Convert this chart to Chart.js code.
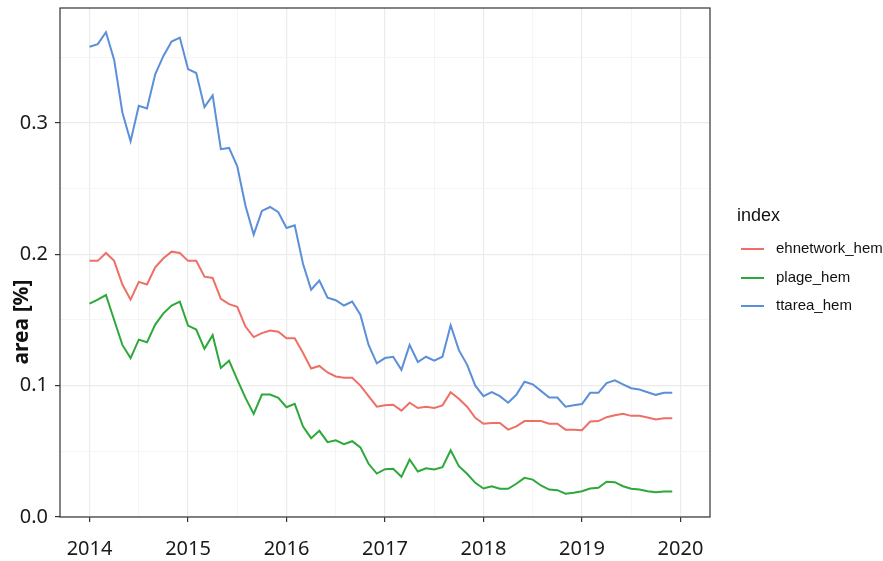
<!DOCTYPE html>
<html>
<head>
<meta charset="utf-8">
<script src="https://cdn.jsdelivr.net/npm/chart.js@4/dist/chart.umd.min.js"></script>
<style>
html,body{margin:0;padding:0;background:#fff}
#wrap{width:883px;height:561px;position:relative}
</style>
</head>
<body>
<div id="wrap"><canvas id="c"></canvas></div>
<script>
const months = [
"2014-01","2014-02","2014-03","2014-04","2014-05","2014-06","2014-07","2014-08","2014-09","2014-10","2014-11","2014-12",
"2015-01","2015-02","2015-03","2015-04","2015-05","2015-06","2015-07","2015-08","2015-09","2015-10","2015-11","2015-12",
"2016-01","2016-02","2016-03","2016-04","2016-05","2016-06","2016-07","2016-08","2016-09","2016-10","2016-11","2016-12",
"2017-01","2017-02","2017-03","2017-04","2017-05","2017-06","2017-07","2017-08","2017-09","2017-10","2017-11","2017-12",
"2018-01","2018-02","2018-03","2018-04","2018-05","2018-06","2018-07","2018-08","2018-09","2018-10","2018-11","2018-12",
"2019-01","2019-02","2019-03","2019-04","2019-05","2019-06","2019-07","2019-08","2019-09","2019-10","2019-11","2019-12"
];
const ehnetwork_hem = [
0.195,0.195,0.201,0.195,0.177,0.1655,0.179,0.177,0.190,0.197,0.202,0.201,
0.195,0.195,0.183,0.182,0.166,0.162,0.160,0.145,0.137,0.140,0.142,0.141,
0.136,0.136,0.125,0.113,0.115,0.110,0.107,0.106,0.106,0.100,0.092,0.084,
0.085,0.0855,0.081,0.087,0.083,0.084,0.083,0.085,0.095,0.090,0.084,0.0755,
0.071,0.0715,0.0715,0.0665,0.069,0.073,0.073,0.073,0.071,0.071,0.0665,0.0665,
0.066,0.0727,0.073,0.076,0.0775,0.0785,0.077,0.077,0.0757,0.0742,0.0752,0.0752
];
const plage_hem = [
0.1625,0.1655,0.169,0.150,0.131,0.121,0.135,0.133,0.1465,0.155,0.161,0.164,
0.1457,0.1427,0.128,0.1384,0.1135,0.119,0.1046,0.0907,0.0785,0.0932,0.0932,0.0907,
0.0836,0.0861,0.069,0.060,0.0656,0.057,0.0584,0.0555,0.0577,0.053,0.0405,0.0331,
0.0364,0.0367,0.0306,0.0438,0.0346,0.0371,0.0361,0.0379,0.0508,0.0387,0.0329,0.026,
0.0217,0.0234,0.0215,0.0215,0.0253,0.0298,0.0285,0.024,0.0209,0.0204,0.0177,0.0184,
0.0196,0.0217,0.0222,0.0268,0.0265,0.0234,0.0215,0.0209,0.0196,0.0189,0.0194,0.0194
];
const ttarea_hem = [
0.358,0.360,0.369,0.348,0.308,0.286,0.313,0.311,0.337,0.351,0.362,0.365,
0.341,0.338,0.312,0.321,0.280,0.281,0.267,0.237,0.215,0.233,0.236,0.232,
0.220,0.222,0.193,0.173,0.180,0.167,0.165,0.161,0.164,0.154,0.131,0.117,
0.121,0.122,0.112,0.131,0.118,0.122,0.119,0.122,0.146,0.127,0.116,0.100,
0.092,0.095,0.092,0.087,0.093,0.103,0.101,0.096,0.091,0.091,0.084,0.085,
0.086,0.0945,0.0945,0.102,0.104,0.101,0.098,0.097,0.095,0.093,0.0945,0.0945
];
const seriesNames = ["ehnetwork_hem","plage_hem","ttarea_hem"];
const seriesColors = ["#EE6F66","#2DA83A","#5B8FD9"];
const legendTitle = "index";
const yAxisTitle = "area [%]";
const xMajor = [2014,2015,2016,2017,2018,2019,2020];
const xMajorLabels = ["2014","2015","2016","2017","2018","2019","2020"];
const xMinor = [2014.5,2015.5,2016.5,2017.5,2018.5,2019.5];
const yMajor = [0,0.1,0.2,0.3];
const yMajorLabels = ["0.0","0.1","0.2","0.3"];
const yMinor = [0.05,0.15,0.25,0.35];

const toYear = s => Number(s.slice(0,4)) + (Number(s.slice(5,7)) - 1) / 12;
const series = [ehnetwork_hem, plage_hem, ttarea_hem];
const datasets = series.map((vals, k) => ({
  label: seriesNames[k],
  data: months.map((m, i) => ({x: toYear(m), y: vals[i]})),
  borderColor: seriesColors[k],
  backgroundColor: seriesColors[k],
  borderWidth: 2,
  pointRadius: 0,
  tension: 0,
  fill: false
}));

const isMajor = (v, arr) => arr.some(a => Math.abs(a - v) < 1e-9);

const decor = {
  id: 'decor',
  afterDraw(chart) {
    const ctx = chart.ctx, a = chart.chartArea;
    ctx.save();
    ctx.strokeStyle = '#333333';
    ctx.lineWidth = 1.2;
    ctx.strokeRect(a.left, a.top, a.right - a.left, a.bottom - a.top);
    // y axis title
    ctx.translate(22, 322);
    ctx.rotate(-Math.PI / 2);
    ctx.fillStyle = '#111';
    ctx.font = 'bold 21px "Noto Sans"';
    ctx.textAlign = 'center';
    ctx.textBaseline = 'middle';
    ctx.fillText(yAxisTitle, 0, 0);
    ctx.restore();
    // legend
    ctx.save();
    ctx.fillStyle = '#111';
    ctx.font = '18px "Liberation Sans"';
    ctx.textAlign = 'left';
    ctx.textBaseline = 'middle';
    ctx.fillText(legendTitle, 737, 216);
    ctx.font = '15px "Liberation Sans"';
    const ys = [249, 278, 306];
    seriesNames.forEach((n, k) => {
      ctx.strokeStyle = seriesColors[k];
      ctx.lineWidth = 2;
      ctx.beginPath();
      ctx.moveTo(741, ys[k]);
      ctx.lineTo(764, ys[k]);
      ctx.stroke();
      ctx.fillStyle = '#111';
      ctx.fillText(n, 776, ys[k]);
    });
    ctx.restore();
  }
};

const zeroPad = s => { s.paddingTop = 0; s.paddingBottom = 0; s.paddingLeft = 0; s.paddingRight = 0; };

new Chart(document.getElementById('c'), {
  type: 'line',
  data: { datasets },
  plugins: [decor],
  options: {
    responsive: true,
    maintainAspectRatio: false,
    animation: false,
    layout: { padding: { top: 8, right: 173, left: 0, bottom: 0 } },
    plugins: { legend: { display: false }, tooltip: { enabled: false }, title: { display: false } },
    scales: {
      x: {
        type: 'linear',
        min: 2013.7,
        max: 2020.3,
        afterBuildTicks: s => { s.ticks = xMajor.concat(xMinor).sort((p, q) => p - q).map(v => ({value: v})); },
        afterFit: s => { s.height = 44; zeroPad(s); },
        border: { display: false },
        grid: {
          color: c => isMajor(c.tick.value, xMajor) ? '#EBEBEB' : '#F2F2F2',
          lineWidth: c => isMajor(c.tick.value, xMajor) ? 1.2 : 0.8,
          tickLength: 5,
          tickColor: c => isMajor(c.tick.value, xMajor) ? '#333333' : 'rgba(0,0,0,0)',
          drawTicks: true
        },
        ticks: {
          autoSkip: false,
          maxRotation: 0,
          padding: 15,
          color: '#1a1a1a',
          font: { family: 'Noto Sans', size: 20 },
          callback: v => { const i = xMajor.findIndex(a => Math.abs(a - v) < 1e-9); return i >= 0 ? xMajorLabels[i] : ''; }
        }
      },
      y: {
        type: 'linear',
        min: 0,
        max: 0.3875,
        afterBuildTicks: s => { s.ticks = yMajor.concat(yMinor).sort((p, q) => p - q).map(v => ({value: v})); },
        afterFit: s => { s.width = 60; zeroPad(s); },
        border: { display: false },
        grid: {
          color: c => isMajor(c.tick.value, yMajor) ? '#EBEBEB' : '#F2F2F2',
          lineWidth: c => isMajor(c.tick.value, yMajor) ? 1.2 : 0.8,
          tickLength: 5,
          tickColor: c => isMajor(c.tick.value, yMajor) ? '#333333' : 'rgba(0,0,0,0)',
          drawTicks: true
        },
        ticks: {
          autoSkip: false,
          padding: 7,
          color: '#1a1a1a',
          font: { family: 'Noto Sans', size: 20 },
          callback: v => { const i = yMajor.findIndex(a => Math.abs(a - v) < 1e-9); return i >= 0 ? yMajorLabels[i] : ''; }
        }
      }
    }
  }
});
</script>
</body>
</html>
